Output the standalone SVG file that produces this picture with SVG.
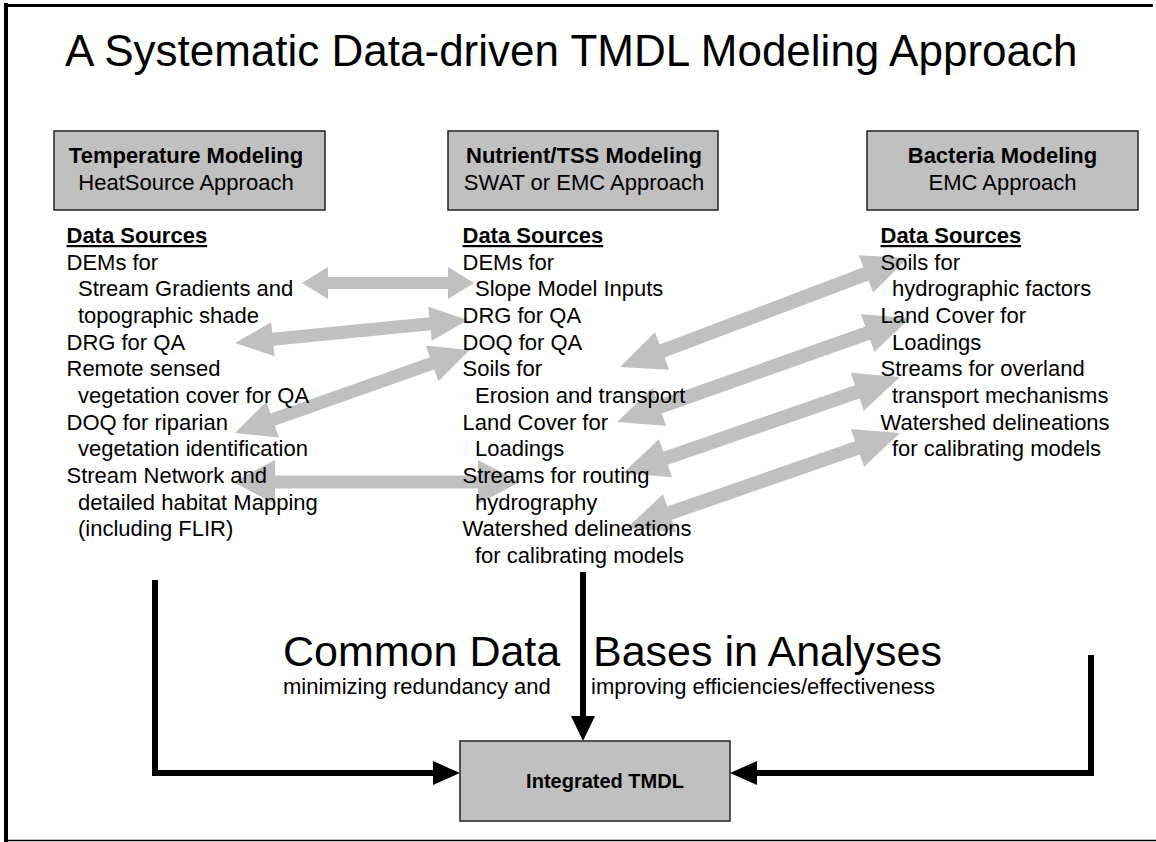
<svg xmlns="http://www.w3.org/2000/svg" width="1156" height="842" viewBox="0 0 1156 842">
<style>
  .t { font-family: "Liberation Sans", Arial, sans-serif; font-size: 22px; fill: #000; }
  .b { font-weight: bold; }
  .u { text-decoration: underline; }
  .box { fill: #c0c0c0; stroke: #222; stroke-width: 1.5; }
  .ga { fill: #c0c0c0; stroke: none; }
  .bl { fill: none; stroke: #000; stroke-width: 6; }
  .bh { fill: #000; }
</style>
<rect width="1156" height="842" fill="#fff"/>
<g id="frame">
  <line x1="6" y1="3" x2="6" y2="842" stroke="#000" stroke-width="4"/>
  <line x1="4" y1="5.5" x2="1153" y2="5.5" stroke="#000" stroke-width="3"/>
  <line x1="4" y1="840.5" x2="1156" y2="840.5" stroke="#000" stroke-width="1.6"/>
</g>
<text id="title" class="t" x="65" y="66" style="font-size:44px">A Systematic Data-driven TMDL Modeling Approach</text>

<g id="connectors">
  <polygon class="ga" transform="translate(302 283)" points="0,0 26,-16 26,-6 146,-6 146,-16 172,0 146,16 146,6 26,6 26,16"/>
  <polygon class="ga" transform="translate(235 343) rotate(-5.64)" points="0,0 38,-17 38,-6.5 196,-6.5 196,-17 234,0 196,17 196,6.5 38,6.5 38,17"/>
  <polygon class="ga" transform="translate(235 433) rotate(-19.45)" points="0,0 40,-19 40,-6.5 209,-6.5 209,-19 249,0 209,19 209,6.5 40,6.5 40,19"/>
  <polygon class="ga" transform="translate(233 482)" points="0,0 42,-22 42,-6.5 245,-6.5 245,-22 287,0 245,22 245,6.5 42,6.5 42,22"/>
  <polygon class="ga" transform="translate(620 367) rotate(-20.73)" points="0,0 45,-20 45,-7 263,-7 263,-20 308,0 263,20 263,7 45,7 45,20"/>
  <polygon class="ga" transform="translate(617 422) rotate(-19.54)" points="0,0 45,-20 45,-7 266,-7 266,-20 311,0 266,20 266,7 45,7 45,20"/>
  <polygon class="ga" transform="translate(623 473) rotate(-19.12)" points="0,0 45,-20 45,-7 248,-7 248,-20 293,0 248,20 248,7 45,7 45,20"/>
  <polygon class="ga" transform="translate(627 528) rotate(-19.19)" points="0,0 45,-20 45,-7 244,-7 244,-20 289,0 244,20 244,7 45,7 45,20"/>

  <line class="bl" x1="583" y1="572" x2="583" y2="718"/>
  <polygon class="bh" points="571,716 595,716 583,741"/>
  <polyline class="bl" points="155,580 155,773 435,773"/>
  <polygon class="bh" points="433,761 460,773 433,785"/>
  <polyline class="bl" points="1091,655 1091,773 755,773"/>
  <polygon class="bh" points="757,761 730,773 757,785"/>
</g>

<g id="temperature">
  <rect class="box" x="54" y="131" width="271" height="79"/>
  <text class="t b" x="186" y="163" text-anchor="middle">Temperature Modeling</text>
  <text class="t" x="186" y="190" text-anchor="middle">HeatSource Approach</text>
</g>
<g id="nutrient">
  <rect class="box" x="448" y="131" width="270" height="79"/>
  <text class="t b" x="584" y="163" text-anchor="middle">Nutrient/TSS Modeling</text>
  <text class="t" x="584" y="190" text-anchor="middle">SWAT or EMC Approach</text>
</g>
<g id="bacteria">
  <rect class="box" x="867" y="131" width="271" height="79"/>
  <text class="t b" x="1002.5" y="163" text-anchor="middle">Bacteria Modeling</text>
  <text class="t" x="1002.5" y="190" text-anchor="middle">EMC Approach</text>
</g>

<g id="temperature-sources">
  <text class="t b u" x="66.5" y="243">Data Sources</text>
  <text class="t" x="66.5" y="269.7">DEMs for</text>
  <text class="t" x="78" y="296.3">Stream Gradients and</text>
  <text class="t" x="78" y="323">topographic shade</text>
  <text class="t" x="66.5" y="349.7">DRG for QA</text>
  <text class="t" x="66.5" y="376.3">Remote sensed</text>
  <text class="t" x="78" y="403">vegetation cover for QA</text>
  <text class="t" x="66.5" y="429.7">DOQ for riparian</text>
  <text class="t" x="78" y="456.3">vegetation identification</text>
  <text class="t" x="66.5" y="483">Stream Network and</text>
  <text class="t" x="78" y="509.7">detailed habitat Mapping</text>
  <text class="t" x="78" y="536.3">(including FLIR)</text>
</g>
<g id="nutrient-sources">
  <text class="t b u" x="462.5" y="243">Data Sources</text>
  <text class="t" x="462.5" y="269.7">DEMs for</text>
  <text class="t" x="475" y="296.3">Slope Model Inputs</text>
  <text class="t" x="462.5" y="323">DRG for QA</text>
  <text class="t" x="462.5" y="349.7">DOQ for QA</text>
  <text class="t" x="462.5" y="376.3">Soils for</text>
  <text class="t" x="475" y="403">Erosion and transport</text>
  <text class="t" x="462.5" y="429.7">Land Cover for</text>
  <text class="t" x="475" y="456.3">Loadings</text>
  <text class="t" x="462.5" y="483">Streams for routing</text>
  <text class="t" x="475" y="509.7">hydrography</text>
  <text class="t" x="462.5" y="536.3">Watershed delineations</text>
  <text class="t" x="475" y="563">for calibrating models</text>
</g>
<g id="bacteria-sources">
  <text class="t b u" x="880.5" y="243">Data Sources</text>
  <text class="t" x="880.5" y="269.7">Soils for</text>
  <text class="t" x="892" y="296.3">hydrographic factors</text>
  <text class="t" x="880.5" y="323">Land Cover for</text>
  <text class="t" x="892" y="349.7">Loadings</text>
  <text class="t" x="880.5" y="376.3">Streams for overland</text>
  <text class="t" x="892" y="403">transport mechanisms</text>
  <text class="t" x="880.5" y="429.7">Watershed delineations</text>
  <text class="t" x="892" y="456.3">for calibrating models</text>
</g>

<g id="common">
  <text class="t" x="283" y="666" style="font-size:43px">Common Data</text>
  <text class="t" x="593" y="666" style="font-size:43px">Bases in Analyses</text>
  <text class="t" x="283" y="694">minimizing redundancy and</text>
  <text class="t" x="591" y="694">improving efficiencies/effectiveness</text>
</g>

<g id="integrated">
  <rect class="box" x="460" y="741" width="270" height="80"/>
  <text class="t b" x="605" y="788" text-anchor="middle" style="font-size:20px">Integrated TMDL</text>
</g>
</svg>
